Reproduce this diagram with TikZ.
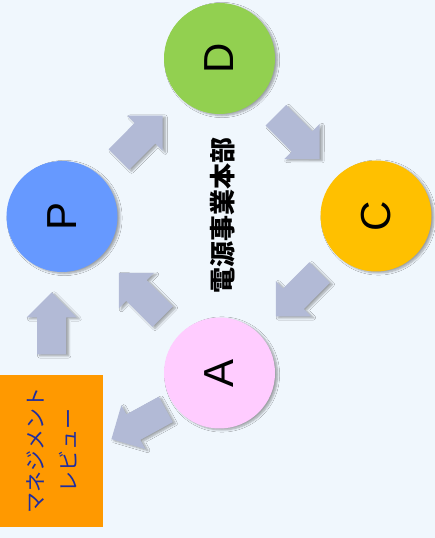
\documentclass[tikz,border=0pt]{standalone}
\usepackage{fontspec}
\setmainfont{Liberation Sans}
\newfontfamily\jpfont{Noto Sans CJK JP}
\usepackage{tikz}
\usetikzlibrary{calc}
\usetikzlibrary{shadows.blur}

\definecolor{bgblue}{RGB}{240,247,253}
\definecolor{flowgray}{RGB}{178,186,214}
\definecolor{pblue}{RGB}{102,153,255}
\definecolor{dgreen}{RGB}{146,208,80}
\definecolor{cyellow}{RGB}{255,192,0}
\definecolor{apink}{RGB}{255,204,255}
\definecolor{revorange}{RGB}{255,153,0}
\definecolor{revblue}{RGB}{30,45,160}

\newcommand\blockarrow[2]{%
  \fill[flow] let \p1=($(#2)-(#1)$), \n1={atan2(\y1,\x1)} in
    ($(#1)!0.5!(#2)$) ++(\n1:-31) ++(\n1+90:14.5) -- ++(\n1:37) -- ++(\n1+90:10.5)
    -- ++(\n1-45:35.36) -- ++(\n1-135:35.36) -- ++(\n1+90:10.5) -- ++(\n1+180:37) -- cycle;}

\begin{document}
\begin{tikzpicture}[x=1pt,y=1pt,
  softshadow/.style={blur shadow={shadow xshift=2.5pt,shadow yshift=-1.5pt,shadow blur steps=6,shadow opacity=35}},
  phase/.style={circle,minimum size=111pt,inner sep=0pt,rotate=90,softshadow,
    font=\fontsize{42}{42}\selectfont},
  flow/.style={fill=flowgray,softshadow}]
\useasboundingbox (0,0) rectangle (435,538);
\fill[bgblue] (0,0) rectangle (435,538);
\node[phase,fill=pblue] (P) at (62,321.5) {P};
\node[phase,fill=dgreen] (D) at (219.5,479.5) {D};
\node[phase,fill=cyellow] (C) at (376,322) {C};
\node[phase,fill=apink] (A) at (219.5,165) {A};
\node[fill=revorange,minimum width=103pt,minimum height=152pt,inner sep=0pt,anchor=south west] (rev) at (0,11) {};
\node[rotate=90,align=center,text=revblue,font=\jpfont\fontsize{21}{33.5}\selectfont] (revtext) at (rev.center) {マネジメント\\レビュー};
\node[rotate=90,font=\jpfont\bfseries\fontsize{26}{26}\selectfont] (dept) at (223,322) {電源事業本部};
\blockarrow{P}{D}
\blockarrow{D}{C}
\blockarrow{C}{A}
\blockarrow{A}{P}
\blockarrow{rev.north}{rev.north |- P.west}
\blockarrow{A.125}{rev.8}
\end{tikzpicture}
\end{document}
